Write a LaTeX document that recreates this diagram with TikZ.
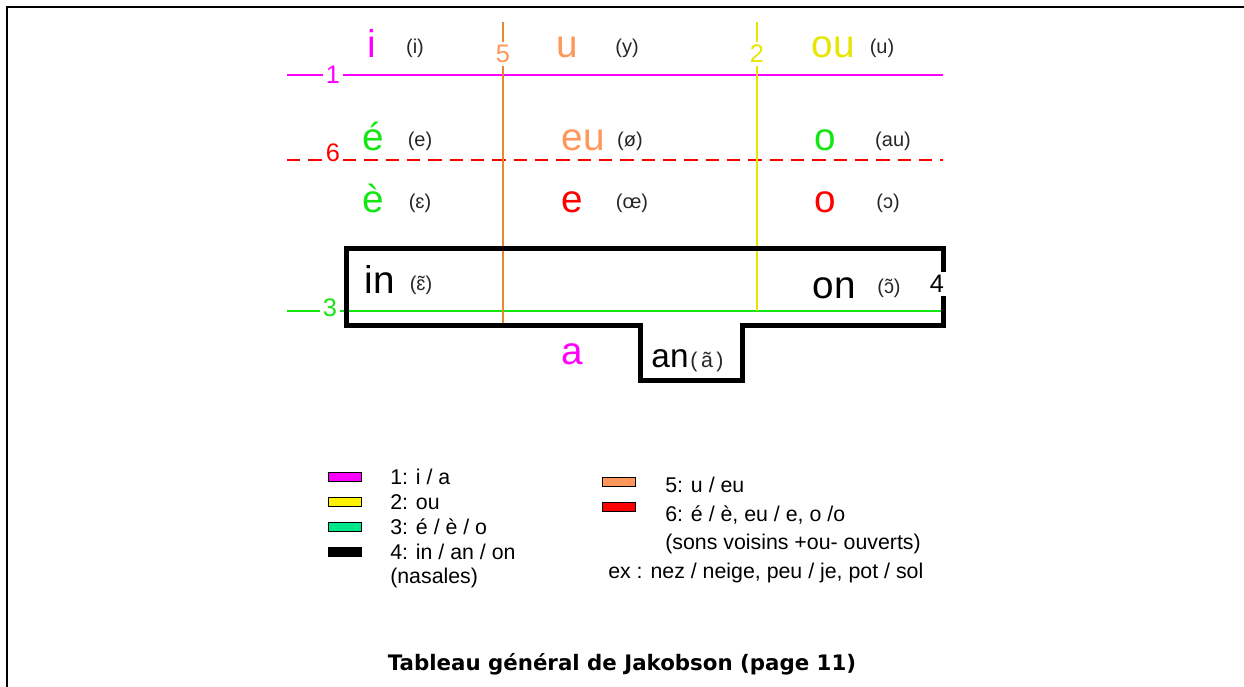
\documentclass[tikz,border=0pt]{standalone}
\usepackage{fontspec}
\setmainfont{Liberation Sans}
\newfontfamily\capfont{DejaVu Sans}
\usetikzlibrary{positioning}

\definecolor{jmag}{RGB}{255,0,255}
\definecolor{jorange}{RGB}{255,150,90}
\definecolor{jorline}{RGB}{235,135,50}
\definecolor{jyellow}{RGB}{230,230,0}
\definecolor{jgreen}{RGB}{20,230,20}
\definecolor{jred}{RGB}{255,0,0}
\definecolor{jmint}{RGB}{0,230,140}

\tikzset{
  vowel/.style={font=\fontsize{29}{29}\selectfont, inner sep=0pt, anchor=base},
  ipa/.style={font=\fontsize{15}{15}\selectfont, inner sep=0pt, anchor=base, text=black!85},
  numlab/.style={font=\fontsize{19}{19}\selectfont, inner sep=2pt},
  legtext/.style={font=\fontsize{16}{16}\selectfont, inner sep=0pt, anchor=base west},
  swatch/.style={draw=black, line width=0.8pt, minimum width=25pt, minimum height=6.5pt, inner sep=0pt},
  nasal/.style={line width=3.75pt, line join=miter}
}

\begin{document}
\begin{tikzpicture}
      [x=0.75pt,y=-0.75pt,line cap=butt]
\useasboundingbox (0,0) rectangle (1244,686);

%frame (only its top and left side are inside the picture)
  \draw[line width=1.5pt] (7,700) -- (7,7) -- (1250,7);

%the line labels
  \node[numlab,text=jmag] (one) at (333,75) {1};
  \node[numlab,text=jred] (six) at (333,153) {6};
  \node[numlab,text=jgreen] (three) at (330,308) {3};
  \node[numlab,text=jorange] (five) at (503,54) {5};
  \node[numlab,text=jyellow] (two) at (757,54) {2};

%horizontal lines
  \coordinate (l1a) at (287,75);  \coordinate (l1b) at (943,75);
  \coordinate (l6a) at (287,160); \coordinate (l6b) at (943,160);
  \coordinate (l3a) at (287,311); \coordinate (l3b) at (941,311);
  \draw[jmag,line width=1.5pt] (l1a) -- (one.west);
  \draw[jmag,line width=1.5pt] (one.east) -- (l1b);
  \draw[jred,line width=1.3pt,dash pattern=on 10pt off 6pt] (l6a) -- (l6a -| six.west);
  \draw[jred,line width=1.3pt,dash pattern=on 10pt off 6pt] (l6a -| six.east) -- (l6b);
  \draw[jgreen,line width=1.3pt] (l3a) -- (l3a -| three.west);
  \draw[jgreen,line width=1.3pt] (l3a -| three.east) -- (l3b);

%vertical lines
  \coordinate (l5a) at (503,22); \coordinate (l5b) at (503,325);
  \coordinate (l2a) at (757,22); \coordinate (l2b) at (757,311);
  \draw[jorline,line width=0.9pt] (l5a) -- (five.north);
  \draw[jorline,line width=0.9pt] (five.south) -- (l5b);
  \draw[jyellow,line width=0.9pt] (l2a) -- (two.north);
  \draw[jyellow,line width=0.9pt] (two.south) -- (l2b);

%the vowels
  \node[vowel,text=jmag] (vi) at (372,57) {i};
  \node[ipa] (pi) at (415,53) {(i)};
  \node[vowel,text=jorange] (vu) at (567,57) {u};
  \node[ipa] (py) at (627,53) {(y)};
  \node[vowel,text=jyellow] (vou) at (833,57) {ou};
  \node[ipa] (pu) at (882,53) {(u)};

  \node[vowel,text=jgreen] (veacute) at (373,150) {é};
  \node[ipa] (pe) at (420,146) {(e)};
  \node[vowel,text=jorange] (veu) at (583,150) {eu};
  \node[ipa] (poe) at (630,146) {(ø)};
  \node[vowel,text=jgreen] (vo) at (825,150) {o};
  \node[ipa] (pau) at (893,146) {(au)};

  \node[vowel,text=jgreen] (vegrave) at (373,212) {è};
  \node[ipa] (peps) at (420,208) {(ɛ)};
  \node[vowel,text=jred] (ve) at (572,212) {e};
  \node[ipa] (poelig) at (632,208) {(œ)};
  \node[vowel,text=jred] (voo) at (825,212) {o};
  \node[ipa] (popen) at (888,208) {(ɔ)};

%the nasals
  \node[vowel] (vin) at (380,293) {in};
  \node[ipa] (pin) at (421,290) {(ɛ̃)};
  \node[vowel] (von) at (834,298) {on};
  \node[ipa] (pon) at (889,293) {(ɔ̃)};
  \node[numlab] (four) at (937,284) {4};
  \node[vowel,text=jmag] (va) at (572,364) {a};
  \node[vowel,font=\fontsize{25}{25}\selectfont] (van) at (670,367) {an};
  \node[ipa,anchor=base west,font=\fontsize{16}{16}\selectfont] (pan) at ([xshift=1pt]van.base east) {(\,ã\,)};

%the nasal box
  \coordinate (bx) at (943,248);
  \draw[nasal] (four.north -| bx) -- (bx) -- (346,248) -- (346,325) -- (640,325)
     -- (640,380) -- (742,380) -- (742,325) -- (943,325) -- (four.south -| bx);

%legend
  \node[swatch,fill=jmag] (s1) at (345,477) {};
  \node[swatch,fill=yellow] (s2) at (345,502) {};
  \node[swatch,fill=jmint] (s3) at (345,527) {};
  \node[swatch,fill=black] (s4) at (345,552) {};
  \node[swatch,fill=jorange] (s5) at (619,482) {};
  \node[swatch,fill=jred] (s6) at (619,507) {};
  \node[legtext] (t1) at (390,484) {1: i / a};
  \node[legtext] (t2) at (390,509) {2: ou};
  \node[legtext] (t3) at (390,534) {3: é / è / o};
  \node[legtext] (t4) at (390,559) {4: in / an / on};
  \node[legtext] (t4b) at (390,583) {(nasales)};
  \node[legtext] (t5) at (665,492) {5: u / eu};
  \node[legtext] (t6) at (665,521) {6: é / è, eu / e, o /o};
  \node[legtext] (t6b) at (665,549) {(sons voisins +ou- ouverts)};
  \node[legtext] (t6c) at (608,578) {ex : nez / neige, peu / je, pot / sol};

%caption
  \node[font=\capfont\bfseries\fontsize{16}{16}\selectfont] (title) at (622,664)
     {Tableau général de Jakobson (page 11)};
\end{tikzpicture}
\end{document}
